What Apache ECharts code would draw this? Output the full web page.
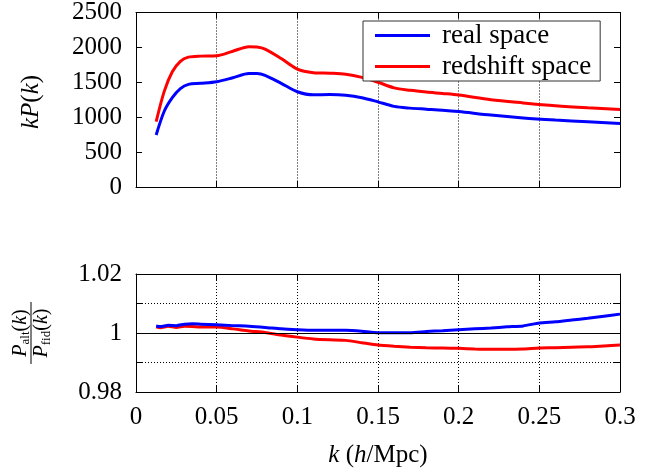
<!DOCTYPE html>
<html><head><meta charset="utf-8">
<script src="https://cdn.jsdelivr.net/npm/echarts@6/dist/echarts.min.js"></script>
<style>html,body{margin:0;padding:0;background:#fff}#c{width:662px;height:472px}</style>
</head><body><div id="c"></div>
<script>
// Top panel: k P(k)
const kTop = [0.0125,0.0175,0.0225,0.0275,0.0325,0.04,0.05,0.06,0.07,0.075,0.08,0.09,0.1,0.11,0.12,0.13,0.14,0.15,0.16,0.17,0.18,0.19,0.2,0.22,0.24,0.26,0.28,0.3];
const realTop = [745,1085,1280,1410,1470,1485,1509,1565,1625,1625,1600,1485,1365,1320,1325,1315,1280,1220,1155,1130,1115,1100,1080,1030,990,960,935,910];
const redTop = [936,1370,1650,1800,1860,1875,1880,1945,2010,2005,1975,1840,1690,1638,1630,1615,1570,1500,1420,1385,1360,1340,1318,1250,1205,1165,1135,1110];
// Bottom panel: ratio P_alt / P_fid
const kRatio = [0.0125,0.015,0.02,0.025,0.03,0.035,0.04,0.05,0.06,0.07,0.08,0.09,0.1,0.11,0.12,0.13,0.14,0.15,0.16,0.17,0.18,0.19,0.2,0.21,0.22,0.23,0.24,0.25,0.26,0.27,0.28,0.29,0.3];
const realRatio = [1.0024,1.0022,1.0026,1.0025,1.003,1.0031,1.003,1.0028,1.0025,1.0023,1.0019,1.0014,1.0011,1.0009,1.0009,1.0009,1.0006,1.0001,1.0001,1.0001,1.0005,1.0008,1.0011,1.0014,1.0017,1.0021,1.0024,1.0034,1.0038,1.0044,1.005,1.0057,1.0064];
const redRatio = [1.0021,1.0018,1.0023,1.0019,1.0023,1.0022,1.002,1.002,1.0014,1.0007,1.0002,0.9993,0.9986,0.998,0.9977,0.9975,0.9967,0.9959,0.9955,0.9952,0.995,0.9949,0.9948,0.9946,0.9945,0.9945,0.9946,0.9949,0.995,0.9952,0.9953,0.9956,0.9959];
const xTicks = {min:0, max:0.3, interval:0.05};
const yTopTicks = {min:0, max:2500, interval:500};
const yRatioTicks = {min:0.98, max:1.02, interval:0.01};
const legendNames = ['real space','redshift space'];

const F = '"Liberation Serif", "DejaVu Serif", serif';
const FS = 25;
const zip = (k, v) => k.map((x, i) => [x, v[i]]);
const dotted = {type:[1,2], color:'#000', width:1};
const frameLine = {show:true, onZero:false, lineStyle:{color:'#000', width:1}};
const tickIn = {show:true, inside:true, length:6, lineStyle:{color:'#000', width:1}};

function xAx(grid, pos, labels, split){
  return Object.assign({type:'value', gridIndex:grid, position:pos, axisLine:frameLine, axisTick:tickIn,
    axisLabel:{show:labels, fontFamily:F, fontSize:FS, color:'#000', margin:13, formatter:v => String(+v.toFixed(2))},
    splitLine:{show:split, lineStyle:dotted}}, xTicks);
}
const chart = echarts.init(document.getElementById('c'));
chart.setOption({
  animation:false,
  backgroundColor:'#fff',
  grid:[
    {left:136, right:42, top:12, height:175},
    {left:136, right:42, top:274, height:118}
  ],
  xAxis:[
    xAx(0,'bottom',false,true), xAx(0,'top',false,false),
    xAx(1,'bottom',true,true), xAx(1,'top',false,false)
  ],
  yAxis:[
    Object.assign({type:'value', gridIndex:0, position:'left', axisLine:frameLine, axisTick:tickIn,
      axisLabel:{fontFamily:F, fontSize:FS, color:'#000', margin:14, formatter:v => String(Math.round(v))}, splitLine:{show:false}}, yTopTicks),
    Object.assign({type:'value', gridIndex:0, position:'right', axisLine:frameLine, axisTick:tickIn,
      axisLabel:{show:false}, splitLine:{show:false}}, yTopTicks),
    Object.assign({type:'value', gridIndex:1, position:'left', axisLine:frameLine, axisTick:tickIn,
      axisLabel:{fontFamily:F, fontSize:FS, color:'#000', margin:14,
        formatter:v => { const n = Math.round(v*100); return n % 2 === 0 ? (n===100 ? '1' : (n/100).toFixed(2)) : ''; }},
      splitLine:{show:true, lineStyle:dotted}}, yRatioTicks),
    Object.assign({type:'value', gridIndex:1, position:'right', axisLine:frameLine, axisTick:tickIn,
      axisLabel:{show:false}, splitLine:{show:false}}, yRatioTicks)
  ],
  legend:{
    data:legendNames, orient:'vertical', left:363, top:21,
    icon:'rect', itemWidth:55, itemHeight:3, itemGap:4,
    padding:[1,9,1,12], borderColor:'#333', borderWidth:1, borderRadius:0, backgroundColor:'#fff',
    textStyle:{fontFamily:F, fontSize:27, color:'#000', lineHeight:24, padding:[0,0,0,7]}
  },
  series:[
    {name:legendNames[0], type:'line', xAxisIndex:0, yAxisIndex:0, data:zip(kTop, realTop), showSymbol:false, smooth:0.3,
      lineStyle:{color:'#0000ff', width:3}, itemStyle:{color:'#0000ff'}},
    {name:legendNames[1], type:'line', xAxisIndex:0, yAxisIndex:0, data:zip(kTop, redTop), showSymbol:false, smooth:0.3,
      lineStyle:{color:'#ff0000', width:3}, itemStyle:{color:'#ff0000'}},
    {name:'real ratio', type:'line', xAxisIndex:2, yAxisIndex:2, data:zip(kRatio, realRatio), showSymbol:false, smooth:0.2,
      lineStyle:{color:'#0000ff', width:3}, itemStyle:{color:'#0000ff'}, z:3,
      markLine:{silent:true, symbol:'none', label:{show:false}, lineStyle:{color:'#000', type:'solid', width:1}, data:[{yAxis:1}]}},
    {name:'redshift ratio', type:'line', xAxisIndex:2, yAxisIndex:2, data:zip(kRatio, redRatio), showSymbol:false, smooth:0.2,
      lineStyle:{color:'#ff0000', width:3}, itemStyle:{color:'#ff0000'}, z:2}
  ],
  graphic:[
    {type:'text', x:31, y:102, rotation:Math.PI/2,
      style:{text:'{i|kP}{r|(}{i|k}{r|)}', align:'center', verticalAlign:'middle',
        rich:{i:{fontFamily:F, fontSize:FS, fontStyle:'italic', fill:'#000'}, r:{fontFamily:F, fontSize:FS, fill:'#000'}}}},
    {type:'group', x:31, y:333, rotation:Math.PI/2, children:[
      {type:'text', x:0, y:-10, style:{text:'{P|P}{s|alt}{r|(}{k|k}{r|)}', align:'center', verticalAlign:'middle',
        rich:{P:{fontFamily:F, fontSize:20, fontStyle:'italic', lineHeight:22, fill:'#000'},
              s:{fontFamily:F, fontSize:13, lineHeight:12, verticalAlign:'bottom', fill:'#000'},
              r:{fontFamily:F, fontSize:20, lineHeight:22, fill:'#000'},
              k:{fontFamily:F, fontSize:20, fontStyle:'italic', lineHeight:22, fill:'#000'}}}},
      {type:'line', shape:{x1:-31, y1:0, x2:31, y2:0}, style:{stroke:'#000', lineWidth:1}},
      {type:'text', x:0, y:11, style:{text:'{P|P}{s|fid}{r|(}{k|k}{r|)}', align:'center', verticalAlign:'middle',
        rich:{P:{fontFamily:F, fontSize:20, fontStyle:'italic', lineHeight:22, fill:'#000'},
              s:{fontFamily:F, fontSize:13, lineHeight:12, verticalAlign:'bottom', fill:'#000'},
              r:{fontFamily:F, fontSize:20, lineHeight:22, fill:'#000'},
              k:{fontFamily:F, fontSize:20, fontStyle:'italic', lineHeight:22, fill:'#000'}}}}
    ]},
    {type:'text', x:378, y:455,
      style:{text:'{i|k}{r| (}{i|h}{r|/Mpc)}', align:'center', verticalAlign:'middle',
        rich:{i:{fontFamily:F, fontSize:FS, fontStyle:'italic', fill:'#000'}, r:{fontFamily:F, fontSize:FS, fill:'#000'}}}}
  ]
});
</script></body></html>
